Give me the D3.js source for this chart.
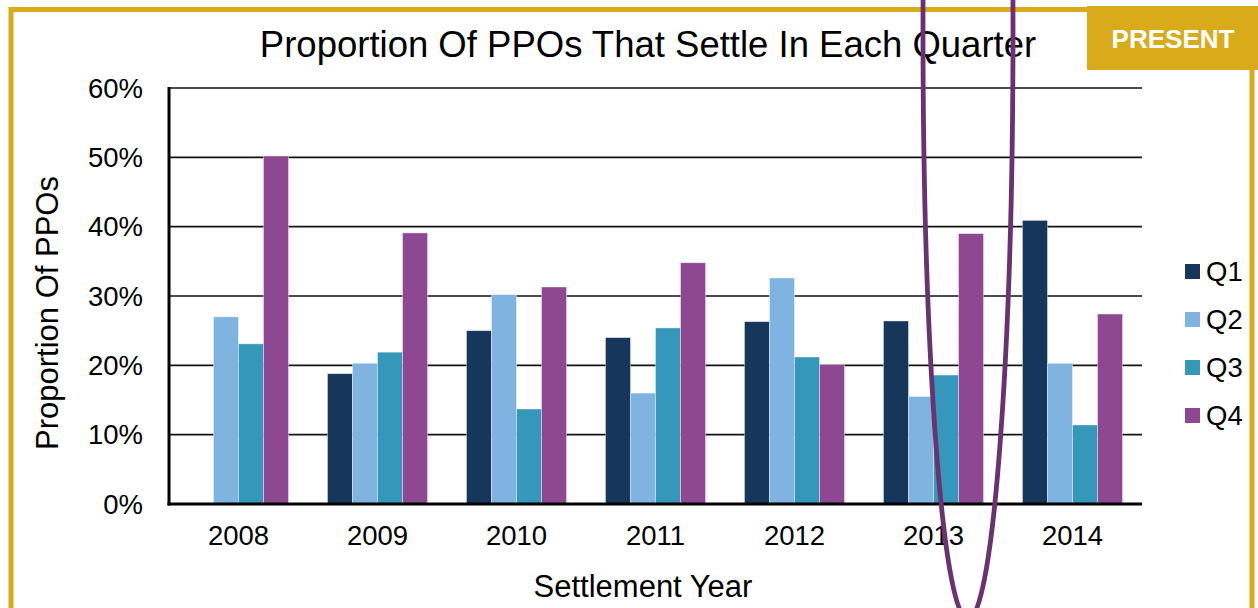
<!DOCTYPE html>
<html>
<head>
<meta charset="utf-8">
<script src="https://d3js.org/d3.v7.min.js"></script>
<style>
  body { margin: 0; background: #fff; }
  text { font-family: "Liberation Sans", Arial, sans-serif; fill: #000; }
  .tick-label { font-size: 27.5px; }
  .axis-title { font-size: 31px; }
  .title { font-size: 36.5px; }
  .badge { font-size: 26px; font-weight: bold; fill: #fff; }
</style>
</head>
<body>
<script>
// chart values (percent)
var years = ["2008", "2009", "2010", "2011", "2012", "2013", "2014"];
var quarters = ["Q1", "Q2", "Q3", "Q4"];
var q1 = [null, 18.8, 25.0, 24.0, 26.3, 26.4, 40.9];
var q2 = [27.0, 20.3, 30.2, 16.0, 32.6, 15.5, 20.3];
var q3 = [23.1, 21.9, 13.7, 25.4, 21.2, 18.6, 11.4];
var q4 = [50.2, 39.1, 31.3, 34.8, 20.1, 39.0, 27.4];
var yTicks = [0, 10, 20, 30, 40, 50, 60];
var quarterColors = ["#16365c", "#7fb3e0", "#3597b9", "#8d4891"];

var width = 1258, height = 608;
var gold = "#d9ab1a";
var plotLeft = 169, plotRight = 1142, plotTop = 88, plotBottom = 504;

var series = [q1, q2, q3, q4];
var rows = [];
years.forEach(function(yr, i) {
  quarters.forEach(function(q, j) {
    rows.push({year: yr, quarter: q, value: series[j][i]});
  });
});

var svg = d3.select("body").append("svg")
  .attr("width", width).attr("height", height);

// gold frame and badge
svg.append("line").attr("x1", 9).attr("x2", 1090).attr("y1", 9.5).attr("y2", 9.5)
  .attr("stroke", gold).attr("stroke-width", 5);
svg.append("line").attr("x1", 11).attr("x2", 11).attr("y1", 7).attr("y2", height)
  .attr("stroke", gold).attr("stroke-width", 5);
svg.append("line").attr("x1", 1252).attr("x2", 1252).attr("y1", 60).attr("y2", height)
  .attr("stroke", gold).attr("stroke-width", 5);
svg.append("rect").attr("x", 1087).attr("y", 6).attr("width", 171).attr("height", 64)
  .attr("fill", gold);
svg.append("text").classed("badge", true)
  .attr("x", 1173).attr("y", 48).attr("text-anchor", "middle").text("PRESENT");

var x = d3.scaleBand().domain(years).range([plotLeft, plotRight])
  .paddingInner(0.28).paddingOuter(0.14);
var xq = d3.scaleBand().domain(quarters).range([0, x.bandwidth()]);
var y = d3.scaleLinear().domain([0, 60]).range([plotBottom, plotTop]);
var color = d3.scaleOrdinal().domain(quarters).range(quarterColors);

// gridlines
svg.append("g").selectAll("line").data(yTicks.slice(1)).enter().append("line")
  .attr("x1", plotLeft).attr("x2", plotRight)
  .attr("y1", function(d) { return y(d); }).attr("y2", function(d) { return y(d); })
  .attr("stroke", "#111").attr("stroke-width", 1.6);

// bars
svg.append("g").selectAll("rect").data(rows.filter(function(d) { return d.value != null; }))
  .enter().append("rect")
  .attr("x", function(d) { return x(d.year) + xq(d.quarter); })
  .attr("width", xq.bandwidth())
  .attr("y", function(d) { return y(d.value); })
  .attr("height", function(d) { return y(0) - y(d.value); })
  .attr("fill", function(d) { return color(d.quarter); })
  .attr("stroke", "#fff").attr("stroke-opacity", 0.5).attr("stroke-width", 0.8);

// axis lines
svg.append("line").attr("x1", plotLeft).attr("x2", plotLeft)
  .attr("y1", plotTop - 1).attr("y2", plotBottom + 1.5)
  .attr("stroke", "#000").attr("stroke-width", 3);
svg.append("line").attr("x1", plotLeft - 1.5).attr("x2", plotRight)
  .attr("y1", plotBottom).attr("y2", plotBottom)
  .attr("stroke", "#000").attr("stroke-width", 3);

// y tick labels
svg.append("g").selectAll("text").data(yTicks).enter().append("text")
  .classed("tick-label", true)
  .attr("x", 143).attr("y", function(d) { return y(d); })
  .attr("dy", "0.35em").attr("text-anchor", "end")
  .text(function(d) { return d + "%"; });

// x tick labels
svg.append("g").selectAll("text").data(years).enter().append("text")
  .classed("tick-label", true)
  .attr("x", function(d) { return x(d) + x.bandwidth() / 2; })
  .attr("y", 545).attr("text-anchor", "middle")
  .text(function(d) { return d; });

// titles
svg.append("text").classed("title", true)
  .attr("x", 648).attr("y", 57).attr("text-anchor", "middle")
  .text("Proportion Of PPOs That Settle In Each Quarter");
svg.append("text").classed("axis-title", true)
  .attr("x", 643).attr("y", 597).attr("text-anchor", "middle")
  .text("Settlement Year");
svg.append("text").classed("axis-title", true)
  .attr("transform", "translate(58,313) rotate(-90)").attr("text-anchor", "middle")
  .text("Proportion Of PPOs");

// legend
var legend = svg.append("g").selectAll("g").data(quarters).enter().append("g")
  .attr("transform", function(d, i) { return "translate(1185," + (264 + i * 48) + ")"; });
legend.append("rect").attr("width", 15).attr("height", 15)
  .attr("fill", function(d) { return color(d); });
legend.append("text").classed("tick-label", true)
  .attr("x", 21).attr("y", 7.5).attr("dy", "0.36em")
  .text(function(d) { return d; });

// hand drawn ellipse around 2013
svg.append("ellipse").attr("cx", 968).attr("cy", 30).attr("rx", 45).attr("ry", 590)
  .attr("fill", "none").attr("stroke", "#6b3272").attr("stroke-width", 4.8);
</script>
</body>
</html>
